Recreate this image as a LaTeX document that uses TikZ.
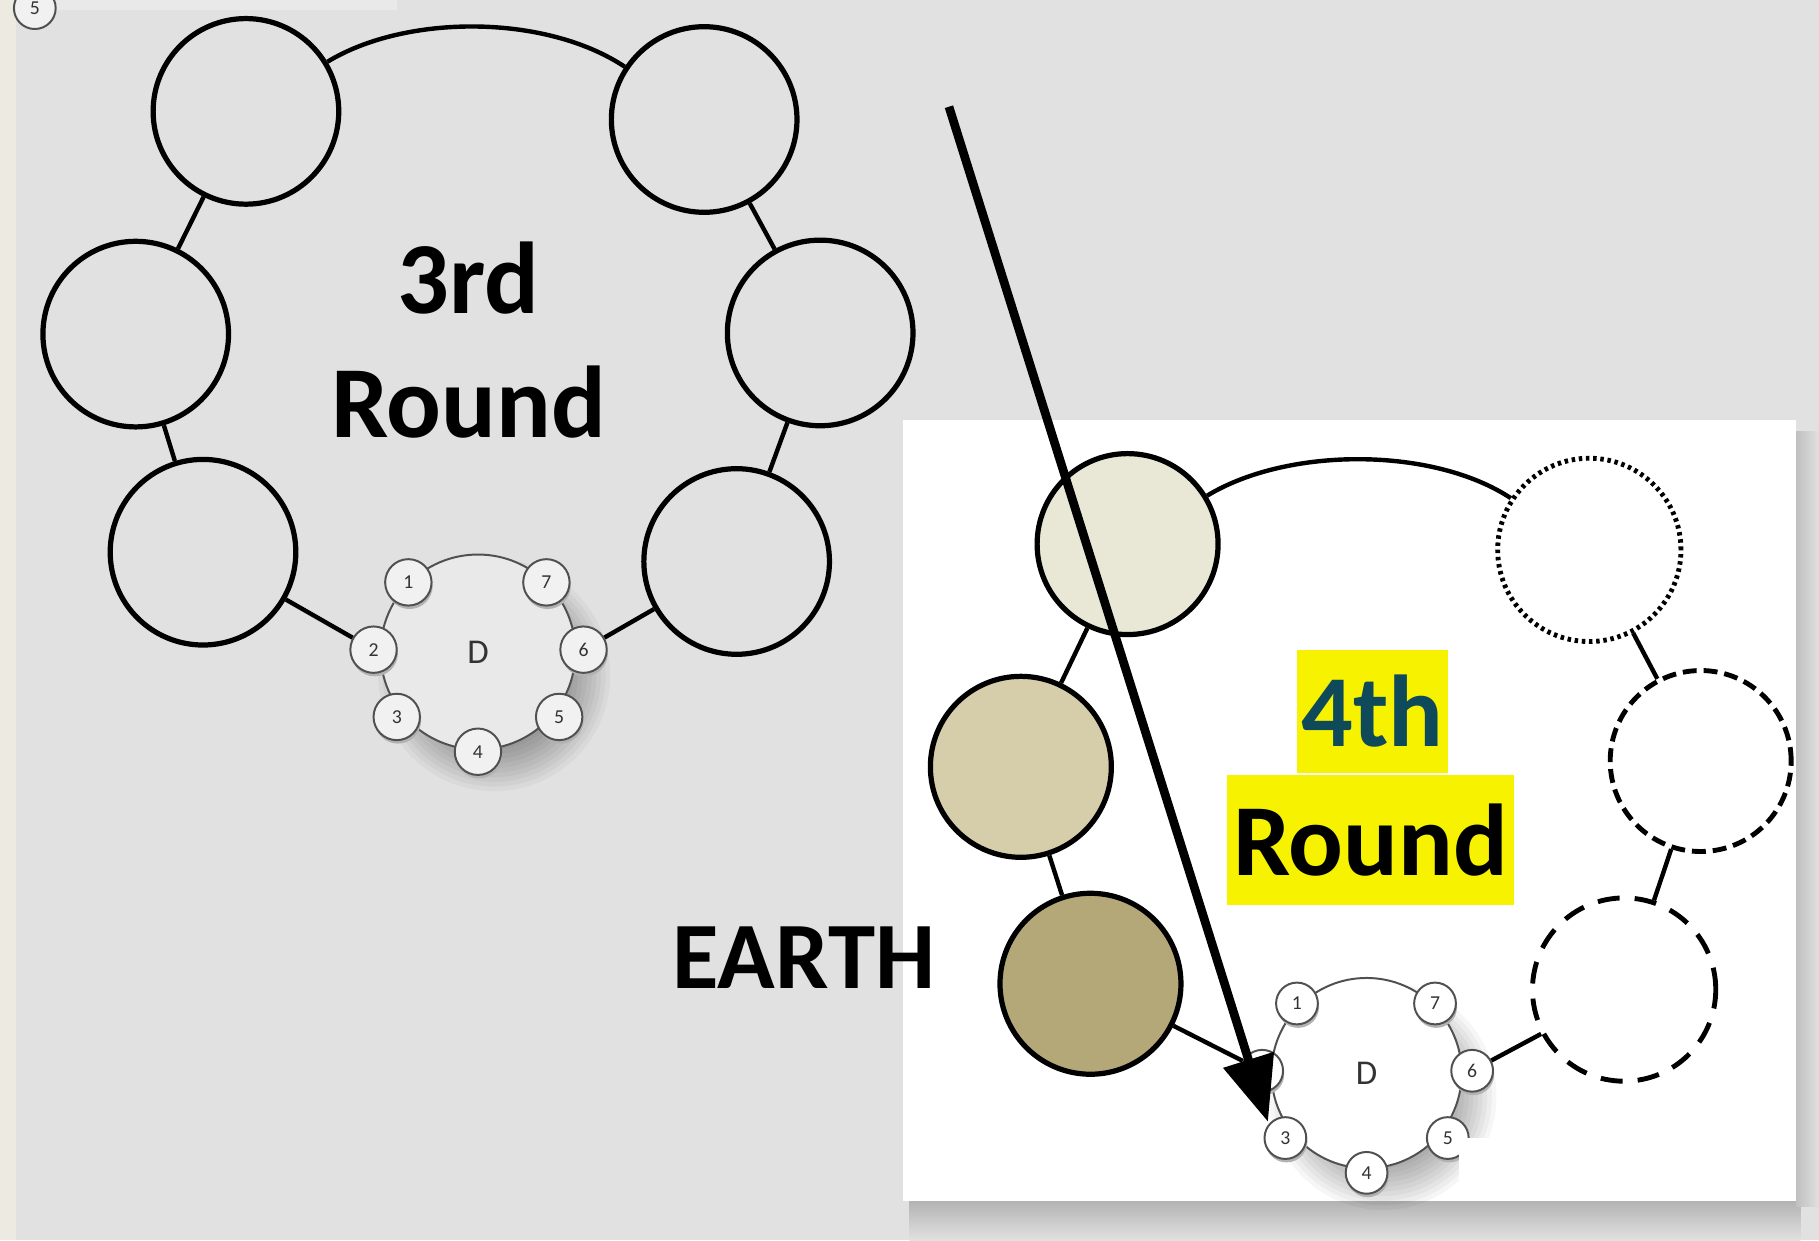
\documentclass[tikz,border=0pt]{standalone}
\usepackage{fontspec}
\setmainfont{Carlito}
\usetikzlibrary{arrows.meta}

\definecolor{bggray}{HTML}{E1E1E1}
\definecolor{stripbeige}{HTML}{ECEAE1}
\definecolor{toplight}{HTML}{E9E9E9}
\definecolor{beadline}{HTML}{505050}
\definecolor{hubgray}{HTML}{E9E9E9}
\definecolor{beadgray}{HTML}{F1F1F1}
\definecolor{sandlight}{HTML}{E9E7D6}
\definecolor{sandmid}{HTML}{D6CDAA}
\definecolor{sanddark}{HTML}{B5A878}
\definecolor{marker}{HTML}{F7F300}
\definecolor{tealtext}{HTML}{0E4A5A}

% a central hub "D" with its seven numbered beads; #1 prefix, #2 x, #3 y,
% #4 bead radius, #5 hub radius, #6 hub fill, #7 bead fill
\newcommand{\beadring}[7]{%
  \foreach \k in {0,...,11}
    \fill[black,opacity=0.035] ({#2+14},{#3+20}) circle ({#5+16-4*\k});
  \node[hub, fill=#6, minimum size={2*#5}] (#1D) at (#2,#3) {D};
  \foreach \n/\dx/\dy in {1/-60/-60,2/-90/-2,3/-70/56,4/0/86,5/70/56,6/91/-2,7/59/-60}{
    \fill[black!30] ({#2+(\dx)+1},{#3+(\dy)+3}) circle (#4);
    \node[bead, fill=#7, minimum size={2*#4}] (#1\n) at ({#2+(\dx)},{#3+(\dy)}) {\n};
  }%
}

\begin{document}
\begin{tikzpicture}[x=1pt,y=-1pt,
  ring/.style={circle, draw=black, line width=4.5pt, minimum size=160pt, inner sep=0pt},
  link/.style={line width=3.8pt, draw=black},
  bead/.style={circle, draw=beadline, line width=1.7pt, inner sep=0pt,
               font=\fontsize{17}{17}\selectfont\color{black!80}},
  hub/.style={circle, draw=beadline, line width=1.7pt, inner sep=0pt,
              font=\fontsize{30}{30}\selectfont\color{black!80}},
  title/.style={font=\fontsize{88}{90}\selectfont\bfseries, inner sep=0pt},
  dotring/.style={ring, dash pattern=on 3pt off 3.2pt, line width=4.2pt},
  dashring/.style={ring, dash pattern=on 12pt off 6pt, line width=4.2pt},
  gapring/.style={ring, dash pattern=on 19pt off 13pt, line width=4.2pt},
  bigarrow/.style={line width=7.5pt, -{Triangle[length=56pt,width=44pt]}}
]
\useasboundingbox (0,0) rectangle (1568,1069);

% page background
\fill[bggray] (0,0) rectangle (1568,1069);
\fill[stripbeige] (0,0) rectangle (14,1069);
\fill[toplight] (14,0) rectangle (342,9);
\node[bead, fill=beadgray, minimum size=36pt] (corner5) at (30,7) {5};

% ---------------- third round ----------------
\node[ring] (tl) at (212,96) {};
\node[ring] (tr) at (607,103) {};
\node[ring] (ml) at (117,288) {};
\node[ring] (mr) at (707,287) {};
\node[ring] (bl) at (175,476) {};
\node[ring] (br) at (635,484) {};

\beadring{l}{412}{562}{20}{84}{hubgray}{beadgray}

\draw[link] (tl) .. controls (350,12) and (470,12) .. (tr);
\draw[link] (tl) -- (ml);
\draw[link] (ml) -- (bl);
\draw[link] (bl) -- (l2);
\draw[link] (tr) -- (mr);
\draw[link] (mr) -- (br);
\draw[link] (br) -- (l6);

\node[title, anchor=base] (third) at (404,270) {3rd};
\node[title, anchor=base] (thirdround) at (404,377) {Round};

% ---------------- fourth round panel ----------------
\shade[top color=black!30, bottom color=bggray] (784,1035) rectangle (1552,1069);
\shade[left color=black!25, right color=black!12] (1548,372) rectangle (1568,1040);
\fill[white] (778,362) rectangle (1548,1035);

\node[ring, fill=sandlight, minimum size=156pt] (qtl) at (972,469) {};
\node[dotring, minimum size=158pt] (qtr) at (1370,474) {};
\node[ring, fill=sandmid, minimum size=156pt] (qml) at (880,661) {};
\node[dashring, minimum size=156pt] (qmr) at (1466,656) {};
\node[ring, fill=sanddark, minimum size=156pt] (qbl) at (940,848) {};
\node[gapring, minimum size=158pt] (qbr) at (1400,853) {};

\beadring{r}{1178}{925}{18}{82}{white}{white}
\fill[white] (1258,981) rectangle (1548,1035);

\draw[link] (qtl) .. controls (1110,385) and (1235,385) .. (qtr);
\draw[link] (qtl) -- (qml);
\draw[link] (qml) -- (qbl);
\draw[link] (qbl) -- (r2);
\draw[link] (qtr) -- (qmr);
\draw[link] (qmr) -- (qbr);
\draw[link] (qbr) -- (r6);

\node[title, fill=marker, minimum width=130pt, minimum height=106pt, text=tealtext]
  (fourth) at (1183,613) {4th};
\node[title, fill=marker, minimum width=247pt, minimum height=112pt]
  (fourthround) at (1181.5,724) {Round};

\node[font=\fontsize{82}{84}\selectfont\bfseries, inner sep=0pt, anchor=base]
  (earth) at (693,852) {EARTH};

% pointer from the third round down to bead 3 of the fourth
\coordinate (pointfrom) at (818,92);
\coordinate (pointto) at (1093,967);
\draw[bigarrow] (pointfrom) -- (pointto);
\end{tikzpicture}
\end{document}
